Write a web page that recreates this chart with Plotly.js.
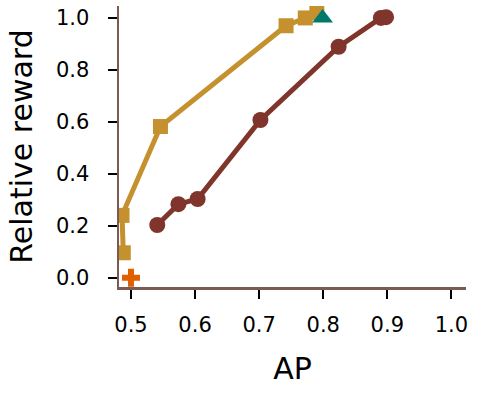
<!DOCTYPE html>
<html>
<head>
<meta charset="utf-8">
<script src="https://cdn.plot.ly/plotly-3.0.1.min.js"></script>
<style>html,body{margin:0;padding:0;background:#fff;}#chart{width:477px;height:393px;}</style>
</head>
<body>
<div id="chart"></div>
<script>
// Data
const goldX = [0.488, 0.486, 0.546, 0.742, 0.772, 0.790];
const goldY = [0.096, 0.240, 0.582, 0.970, 1.000, 1.020];
const brownX = [0.541, 0.574, 0.604, 0.702, 0.824, 0.890, 0.898];
const brownY = [0.203, 0.283, 0.303, 0.607, 0.889, 1.000, 1.003];
const triX = [0.799];
const triY = [1.000];
const plusX = [0.500];
const plusY = [0.000];
const xTicks = [0.5, 0.6, 0.7, 0.8, 0.9, 1.0];
const xTickText = ['0.5', '0.6', '0.7', '0.8', '0.9', '1.0'];
const yTicks = [0.0, 0.2, 0.4, 0.6, 0.8, 1.0];
const yTickText = ['0.0', '0.2', '0.4', '0.6', '0.8', '1.0'];

const FONT = 'DejaVu Sans, sans-serif';
const traces = [
  {x: goldX, y: goldY, type: 'scatter', mode: 'lines+markers',
   line: {color: '#c4912e', width: 5},
   marker: {symbol: 'square', size: 15, color: '#c4912e'}},
  {x: brownX, y: brownY, type: 'scatter', mode: 'lines+markers',
   line: {color: '#7f352b', width: 5},
   marker: {symbol: 'circle', size: 16, color: '#7f352b'}},
  {x: triX, y: triY, type: 'scatter', mode: 'markers',
   marker: {symbol: 'triangle-up', size: 18, color: '#00796b'}},
  {x: plusX, y: plusY, type: 'scatter', mode: 'markers',
   marker: {symbol: 'cross', size: 15, color: '#e06000'}}
];
const axisCommon = {
  showline: true, linecolor: '#7a5a52', linewidth: 2.5,
  ticks: 'outside', ticklen: 9, tickwidth: 2, tickcolor: '#000',
  showgrid: false, zeroline: false, mirror: false,
  tickfont: {family: FONT, size: 21, color: '#000'}
};
const layout = {
  width: 477, height: 393,
  margin: {l: 119, r: 11, t: 6, b: 106},
  paper_bgcolor: '#fff', plot_bgcolor: '#fff',
  showlegend: false,
  font: {family: FONT},
  xaxis: Object.assign({}, axisCommon, {
    range: [0.4813, 1.0228], tickvals: xTicks, ticktext: xTickText,
    ticklabelstandoff: 8,
    title: {text: 'AP', font: {family: FONT, size: 30, color: '#000'}, standoff: 23}
  }),
  yaxis: Object.assign({}, axisCommon, {
    range: [-0.0358, 1.046], tickvals: yTicks, ticktext: yTickText,
    ticklabelstandoff: 14,
    title: {text: 'Relative reward', font: {family: FONT, size: 30, color: '#000'}, standoff: 15}
  })
};
Plotly.newPlot('chart', traces, layout, {displayModeBar: false, staticPlot: true});
</script>
</body>
</html>
